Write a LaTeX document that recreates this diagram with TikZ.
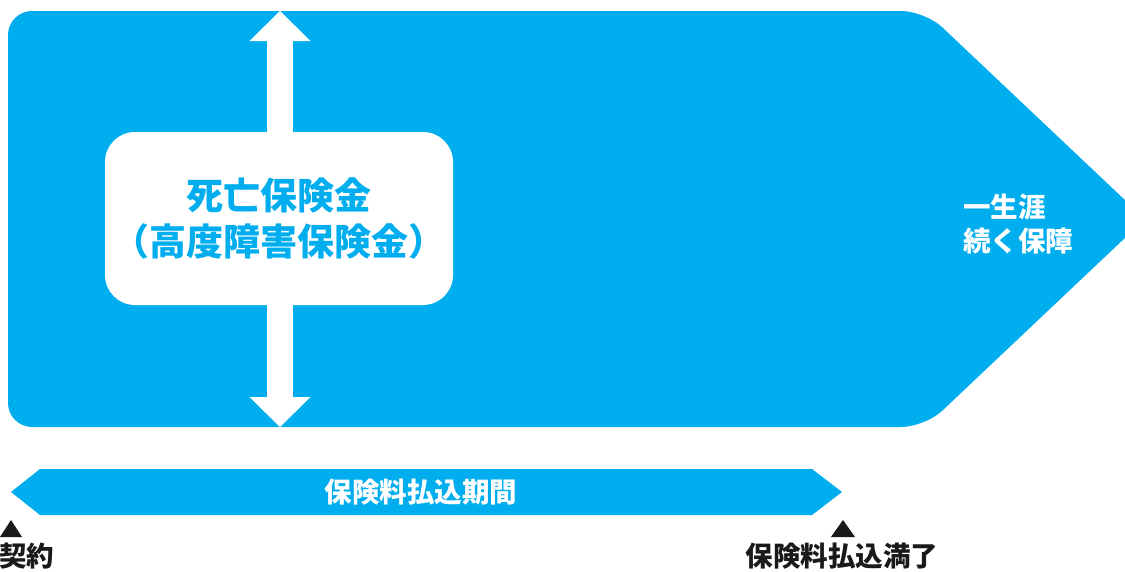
\documentclass[tikz,border=0pt]{standalone}
\usepackage{fontspec}
\newfontfamily\jp{Noto Sans CJK JP}
\usepackage{tikz}
\usetikzlibrary{arrows.meta,positioning,calc}
\definecolor{acc}{HTML}{00AEEF}
\definecolor{ink}{HTML}{1A1A1A}
\tikzset{
  >={Triangle[width=61pt,length=30pt,line width=0pt]},
  band/.style={fill=acc},
  card/.style={fill=white,rounded corners=30pt,minimum width=348pt,minimum height=173pt,inner sep=0pt,
    font=\jp\bfseries\fontsize{37}{46}\selectfont,text=acc,align=center},
  wtxt/.style={font=\jp\bfseries\fontsize{27.5}{34}\selectfont,text=white,align=left,inner sep=0pt},
  lab/.style={font=\jp\bfseries\fontsize{27.5}{30}\selectfont,text=ink,inner sep=0pt},
  dbl/.style={<->,draw=white,fill=white,line width=26pt},
}
\begin{document}
\begin{tikzpicture}[x=1pt,y=-1pt]
\useasboundingbox (0,0) rectangle (1125,571);
\clip (0,0) rectangle (1125,571);
% coverage shape
\fill[band,rounded corners=24pt] (8,219) -- (8,11) -- (925,11) [sharp corners] -- (1145,219)
  [rounded corners=24pt] -- (925,427) -- (8,427) -- cycle;
\coordinate (top) at (280,11);
\coordinate (bot) at (280,427);
\draw[dbl] (top) -- (bot);
\node[card] (card) at (279,218.5) {死亡保険金\\（高度障害保険金）};
\node[wtxt,anchor=west] (life) at (963,224) {一生涯\\続く保障};
% payment period
\fill[band] (11,492) -- (40,469) -- (812,469) -- (842,492) -- (812,515) -- (40,515) -- cycle;
\node[wtxt] (pay) at (421,492) {保険料払込期間};
\node[lab,anchor=west] (start) at (-1,556) {契約};
\node[lab] (end) at (842,556) {保険料払込満了};
\fill[ink] (0,537) -- (11,520) -- (22,537) -- cycle;
\fill[ink] (831,537) -- (843,520) -- (855,537) -- cycle;
\end{tikzpicture}
\end{document}
